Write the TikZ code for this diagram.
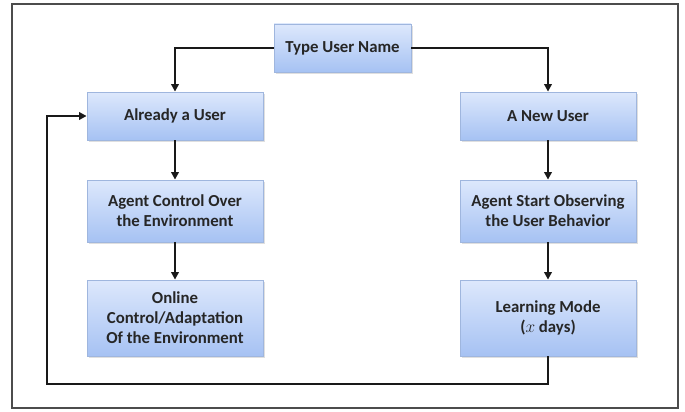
\documentclass[tikz,border=0pt]{standalone}
\usepackage{fontspec}
\setmainfont{Carlito}
\usetikzlibrary{arrows.meta,shadows,calc}
\definecolor{boxtop}{HTML}{DDE8FC}
\definecolor{boxbot}{HTML}{A6C2F3}
\definecolor{boxedge}{HTML}{9FB6DE}
\definecolor{txt}{HTML}{262626}
\tikzset{
  flowbox/.style={draw=boxedge, line width=0.8pt, top color=boxtop, bottom color=boxbot,
    align=center, font=\bfseries\fontsize{16.8}{20}\selectfont, text=txt,
    minimum width=176pt, inner sep=2pt,
    drop shadow={opacity=0.25, shadow xshift=1.5pt, shadow yshift=-2pt}},
  link/.style={line width=2pt, draw=black!90, -{Triangle[length=7.5pt,width=7.5pt]}},
}
\begin{document}
\begin{tikzpicture}[x=1pt,y=-1pt]
  \useasboundingbox (0,0) rectangle (685,412);
  % outer frame
  \draw[line width=1.4pt, draw=black!70] (12,4) rectangle (678,408);

  \node[flowbox, minimum width=137pt, minimum height=48pt] (tun) at (342.5,48) {Type User Name};
  \node[flowbox, minimum height=48pt] (old) at (175,116) {Already a User};
  \node[flowbox, minimum height=48pt] (new) at (548,116) {A New User};
  \node[flowbox, minimum height=62pt] (ctrl) at (175,211) {Agent Control Over\\the Environment};
  \node[flowbox, minimum height=62pt] (obs) at (548,211) {Agent Start Observing\\the User Behavior};
  \node[flowbox, minimum height=76pt] (online) at (175,318) {Online\\Control/Adaptation\\Of the Environment};
  \node[flowbox, minimum height=76pt] (learn) at (548,318) {Learning Mode\\($x$ days)};

  \coordinate (loop) at (47,384);

  \draw[link] (tun.west) -| (old.north);
  \draw[link] (tun.east) -| (new.north);
  \draw[link] (old.south) -- (ctrl.north);
  \draw[link] (ctrl.south) -- (online.north);
  \draw[link] (new.south) -- (obs.north);
  \draw[link] (obs.south) -- (learn.north);
  \draw[link] (learn.south) |- (loop) |- (old.west);
\end{tikzpicture}
\end{document}
